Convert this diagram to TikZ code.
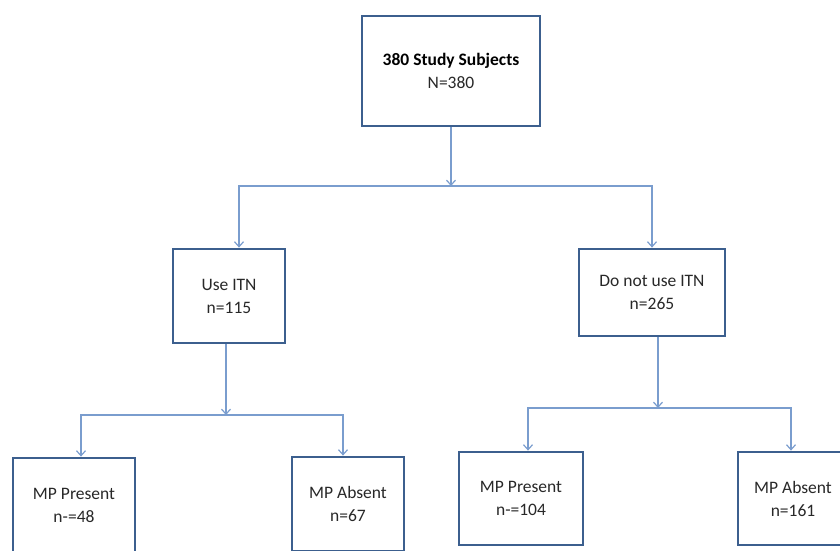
\documentclass[tikz,border=0pt]{standalone}
\usepackage{fontspec}
\setmainfont{Carlito}
\usetikzlibrary{arrows.meta}
\definecolor{boxblue}{RGB}{60,95,142}
\definecolor{linkblue}{RGB}{122,157,206}
\definecolor{textgray}{RGB}{40,40,40}

\begin{document}
\begin{tikzpicture}[x=1pt, y=-1pt,
    box/.style={draw=boxblue, line width=2.8pt, fill=white, align=center, inner sep=0pt,
        text=textgray, font=\fontsize{17.5}{23}\selectfont},
    link/.style={draw=linkblue, line width=1.2pt, -{Straight Barb[length=5pt, width=9pt]}}]
        \useasboundingbox (0,0) rectangle (840,550);
        \clip (0,0) rectangle (840,550);

        % Top box
        \node[box, minimum width=178pt, minimum height=110pt] (root) at (451,71) {{\bfseries\color{black}380 Study Subjects}\\N=380};

        % ITN use
        \node[box, minimum width=112pt, minimum height=94pt] (use) at (229,296) {Use ITN\\n=115};
        \node[box, minimum width=146pt, minimum height=87pt] (nouse) at (652,292.5) {Do not use ITN\\n=265};

        % MP among ITN users
        \node[box, minimum width=122pt, minimum height=94pt] (present1) at (74,505) {MP Present\\n-=48};
        \node[box, minimum width=112pt, minimum height=94pt] (absent1) at (348,504) {MP Absent\\n=67};

        % MP among non-users
        \node[box, minimum width=124pt, minimum height=93pt] (present2) at (521,498.5) {MP Present\\n-=104};
        \node[box, minimum width=110pt, minimum height=93pt] (absent2) at (793,498.5) {MP Absent\\n=161};

        % Junctions
        \coordinate (split1) at (451,186);
        \coordinate (split2) at (226,415);
        \coordinate (split3) at (658,408);

        % Connect nodes
        \draw[link] (root) -- (split1);
        \draw[link] (split1) -| ([xshift=10pt]use.north);
        \draw[link] (split1) -| (nouse.north);

        \draw[link] ([xshift=-3pt]use.south) -- (split2);
        \draw[link] (split2) -| ([xshift=7pt]present1.north);
        \draw[link] (split2) -| ([xshift=-5pt]absent1.north);

        \draw[link] ([xshift=6pt]nouse.south) -- (split3);
        \draw[link] (split3) -| ([xshift=7pt]present2.north);
        \draw[link] (split3) -| ([xshift=-2pt]absent2.north);
    \end{tikzpicture}
\end{document}
